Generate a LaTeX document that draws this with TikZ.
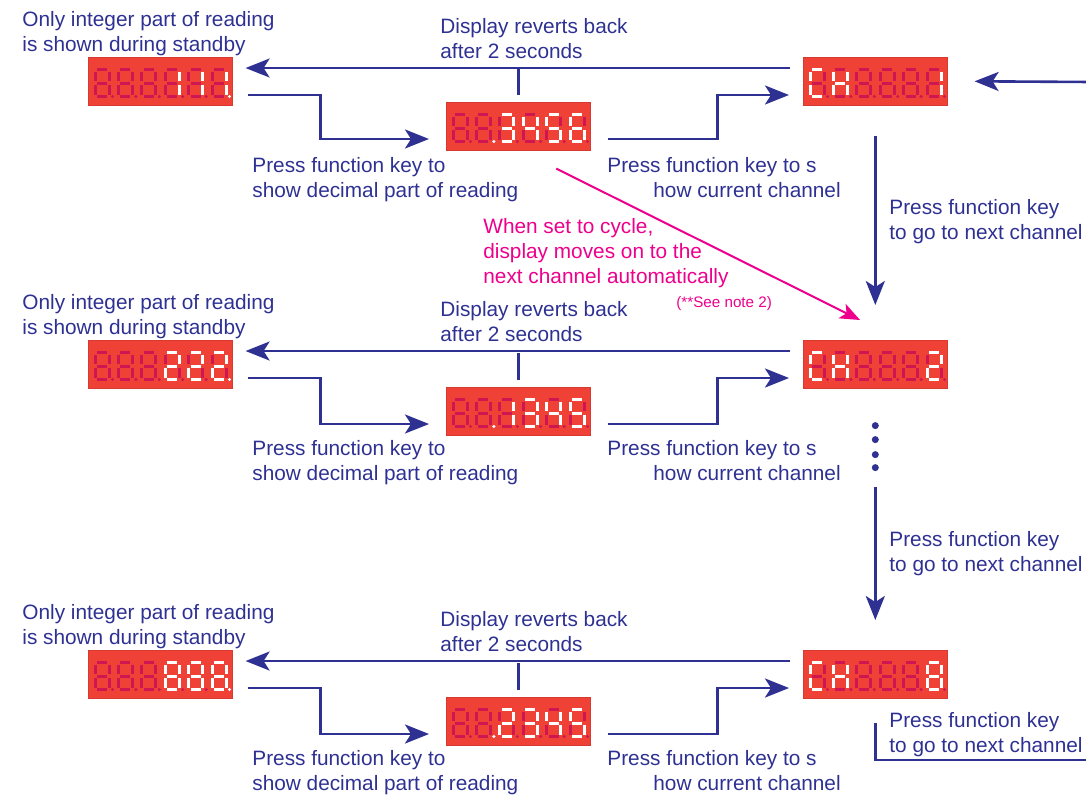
\documentclass[tikz,border=0pt]{standalone}
\usepackage{fontspec}
\setmainfont{Liberation Sans}
\usetikzlibrary{arrows.meta,calc,positioning}

\definecolor{flowblue}{RGB}{46,49,146}
\definecolor{cyclepink}{RGB}{236,0,140}
\definecolor{ledred}{RGB}{239,65,54}
\definecolor{leddim}{RGB}{205,22,82}

\tikzset{
  flow/.style={flowblue, line width=1.3pt, -{Stealth[length=12pt,width=9.5pt,inset=3pt]}},
  wire/.style={flowblue, line width=1.3pt},
  autoflow/.style={cyclepink, line width=1pt, -{Stealth[length=10pt,width=8pt,inset=2.5pt]}},
  display/.style={draw=ledred!90!black, line width=0.3pt, fill=ledred, minimum width=72pt, minimum height=24pt, inner sep=0pt, anchor=north west},
  note/.style={text=flowblue, font=\fontsize{10.4}{12.5}\selectfont, align=left, inner sep=0pt, anchor=north west},
  autonote/.style={note, text=cyclepink},
  dimseg/.style={leddim, line width=1.5pt},
  litseg/.style={white, line width=1.5pt}
}

% one segment of a digit (a-g, p = decimal point)
\newcommand\ledseg[2]{%
  \if#2a\draw[#1] (2,0) -- (12,0);\fi
  \if#2b\draw[#1] (14,2) -- (14,11.5);\fi
  \if#2c\draw[#1] (14,15.5) -- (14,25);\fi
  \if#2d\draw[#1] (2,27) -- (12,27);\fi
  \if#2e\draw[#1] (0,15.5) -- (0,25);\fi
  \if#2f\draw[#1] (0,2) -- (0,11.5);\fi
  \if#2g\draw[#1] (2,13.5) -- (12,13.5);\fi
  \if#2p\fill[#1] (17.5,27) circle[radius=0.85pt];\fi
}

% six digits over a display node
\newcommand\ledshow[2]{%
  \begin{scope}[shift={(#1.north west)}]
    \foreach \lit [count=\k] in {#2} {
      \begin{scope}[shift={(23.4*\k-16.4,12.5)}]
        \foreach \s in {a,b,c,d,e,f,g,p} {\ledseg{dimseg}{\s}}
        \foreach \s in \lit {\ledseg{litseg}{\s}}
      \end{scope}
    }
  \end{scope}}

\begin{document}
\begin{tikzpicture}[x=0.5pt,y=-0.5pt]
  \useasboundingbox (0,0) rectangle (1086,794);

  % displays
  \node[display] (int1) at (88,57) {};
  \node[display] (dec1) at (446,102) {};
  \node[display] (ch1) at (803,57) {};
  \node[display] (int2) at (88,340) {};
  \node[display] (dec2) at (446,387) {};
  \node[display] (ch2) at (803,340) {};
  \node[display] (int3) at (88,650) {};
  \node[display] (dec3) at (446,697) {};
  \node[display] (ch3) at (803,650) {};

  \ledshow{int1}{{n},{n},{n},{b,c},{b,c},{b,c,p}}
  \ledshow{dec1}{{n},{p},{a,b,c,d,g},{b,c,f,g},{a,c,d,f,g},{a,c,d,e,f,g}}
  \ledshow{ch1}{{a,d,e,f},{b,c,e,f,g},{n},{n},{n},{b,c}}
  \ledshow{int2}{{n},{n},{n},{a,b,d,e,g},{a,b,d,e,g},{a,b,d,e,g,p}}
  \ledshow{dec2}{{n},{p},{b,c},{a,b,c,d,g},{b,c,f,g},{a,c,d,f,g}}
  \ledshow{ch2}{{a,d,e,f},{b,c,e,f,g},{n},{n},{n},{a,b,d,e,g}}
  \ledshow{int3}{{n},{n},{n},{a,b,c,d,e,f,g},{a,b,c,d,e,f,g},{a,b,c,d,e,f,g,p}}
  \ledshow{dec3}{{n},{p},{a,b,d,e,g},{a,b,c,d,g},{b,c,f,g},{a,c,d,f,g}}
  \ledshow{ch3}{{a,d,e,f},{b,c,e,f,g},{n},{n},{n},{a,b,c,d,e,f,g}}

  % rows
  \foreach \r/\dy in {1/0,2/283,3/593} {
    \node[note] (stby\r) at (22,11+\dy) {Only integer part of reading\\is shown during standby};
    \node[note] (revert\r) at (440,18+\dy) {Display reverts back\\after 2 seconds};
    \node[note] (showdec\r) at (252,157+\dy) {Press function key to\\show decimal part of reading};
    \node[note] (showch\r) at (607,157+\dy) {Press function key to s\\\hspace*{23pt}how current channel};
    \draw[flow] ($(ch\r.north west)+(-13,11)$) -- ($(int\r.north east)+(13,11)$);
    \draw[wire] ($(dec\r.north)+(0,-7)$) -- ($(dec\r.north)+(0,-34)$);
    \draw[flow] ($(int\r.north east)+(15,38)$) -- ++(73,0) |- ($(dec\r.north west)+(-17,37)$);
    \draw[flow] ($(dec\r.north east)+(17,37)$) -- ++(110,0) |- ($(ch\r.north west)+(-14,38)$);
  }

  % channel steps
  \node[note] (next1) at (889,199) {Press function key\\to go to next channel};
  \node[note] (next2) at (889,531) {Press function key\\to go to next channel};
  \node[note] (next3) at (889,712) {Press function key\\to go to next channel};
  \coordinate (loopin) at (1092,82);
  \coordinate (loopout) at (1092,760);
  \draw[flow] (loopin) -- ($(ch1.east)+(27,0)$);
  \draw[flow] ($(ch1.south)+(0,30)$) -- ($(ch2.north)+(0,-35)$);
  \foreach \d in {37,51,66,79}
    \fill[flowblue] ($(ch2.south)+(0,\d)$) circle[radius=1.75pt];
  \draw[flow] ($(ch2.south)+(0,98)$) -- ($(ch3.north)+(0,-30)$);
  \draw[wire] ($(ch3.south)+(0,24)$) |- (loopout);

  % cycle mode
  \node[autonote] (cyclenote) at (483,218) {When set to cycle,\\display moves on to the\\next channel automatically};
  \node[autonote, font=\fontsize{7.6}{9}\selectfont] (seenote) at (676,296) {(**See note 2)};
  \draw[autoflow] ($(dec1.south)+(38,18)$) -- ($(ch2.north west)+(57,-20)$);
\end{tikzpicture}
\end{document}
